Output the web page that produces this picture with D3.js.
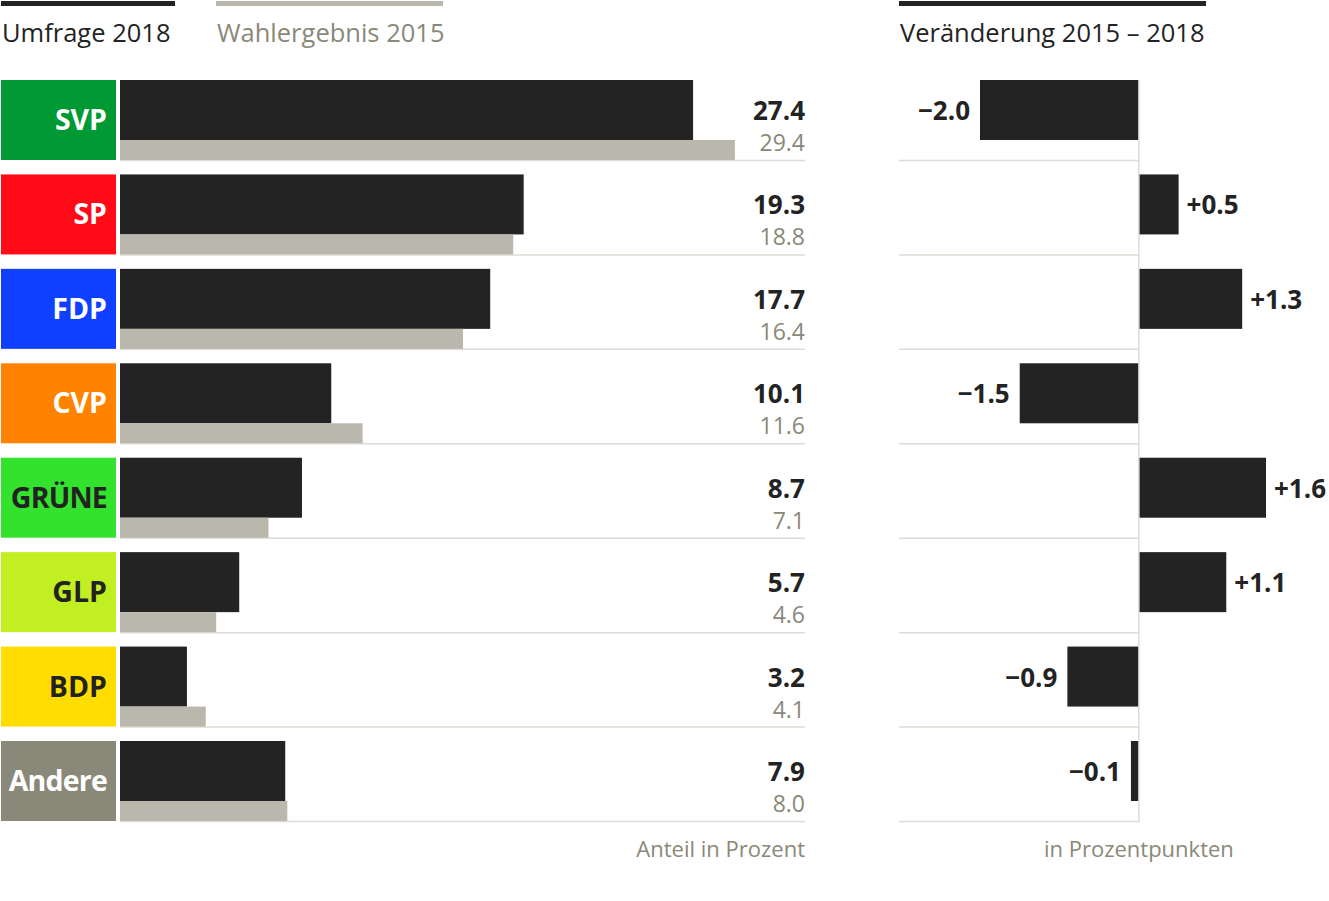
<!DOCTYPE html>
<html>
<head>
<meta charset="utf-8">
<script src="https://cdn.jsdelivr.net/npm/d3@7"></script>
<style>
  body { margin: 0; background: #fff; }
  svg text { font-family: "Open Sans", "Noto Sans", sans-serif; }
</style>
</head>
<body>
<div id="chart"></div>
<script>
// Parteien und Werte
const parties = ["SVP", "SP", "FDP", "CVP", "GRÜNE", "GLP", "BDP", "Andere"];
const umfrage2018 = [27.4, 19.3, 17.7, 10.1, 8.7, 5.7, 3.2, 7.9];
const wahl2015 = [29.4, 18.8, 16.4, 11.6, 7.1, 4.6, 4.1, 8.0];
const veraenderung = [-2.0, 0.5, 1.3, -1.5, 1.6, 1.1, -0.9, -0.1];
const partyColors = ["#009933", "#ff0a16", "#1040ff", "#ff8200", "#33e22c", "#c2ef22", "#ffdd00", "#8a8878"];
const darkLabels = ["GRÜNE", "GLP", "BDP"];

const data = parties.map((p, i) => ({
    party: p,
    now: umfrage2018[i],
    before: wahl2015[i],
    diff: veraenderung[i],
    color: partyColors[i]
}));

const width = 1329, height = 901;
const dark = "#232323", grey = "#bab8ad", greyText = "#8a8878", rule = "#dcdcd6";

const svg = d3.select("#chart").append("svg")
    .attr("width", width)
    .attr("height", height);

// Zeilen
const y = d3.scaleBand()
    .domain(parties)
    .range([80, 821])
    .paddingInner(0.1528)
    .paddingOuter(0);

// Anteil in Prozent
const x = d3.scaleLinear()
    .domain([0, 32.75])
    .range([120, 805]);

// Veränderung in Prozentpunkten
const xc = d3.scaleLinear()
    .domain([-2, 1.6])
    .range([980, 1266]);

const bandH = y.bandwidth();      // ~80
const nowH = bandH * 0.75;        // dunkler Balken
const beforeH = bandH - nowH;     // grauer Balken

const fmtDiff = v => (v > 0 ? "+" : v < 0 ? "\u2212" : "") + Math.abs(v).toFixed(1);

// Kopfzeile / Legende
const legend = [
    {x0: 1, x1: 175, color: dark, text: "Umfrage 2018", tc: dark},
    {x0: 216, x1: 443, color: grey, text: "Wahlergebnis 2015", tc: greyText},
    {x0: 899, x1: 1206, color: dark, text: "Veränderung 2015 – 2018", tc: dark}
];
const head = svg.append("g").selectAll("g").data(legend).enter().append("g");
head.append("rect")
    .attr("x", d => d.x0)
    .attr("y", 1)
    .attr("width", d => d.x1 - d.x0)
    .attr("height", 5)
    .attr("fill", d => d.color);
head.append("text")
    .attr("x", d => d.x0 + 1)
    .attr("y", 42)
    .attr("font-size", 25.5)
    .attr("fill", d => d.tc)
    .text(d => d.text);

const rows = svg.append("g").selectAll(".row")
    .data(data)
    .enter().append("g")
    .attr("class", "row")
    .attr("transform", d => "translate(0," + y(d.party) + ")");

// Trennlinien
rows.append("line")
    .attr("x1", x(0)).attr("x2", x.range()[1])
    .attr("y1", bandH + 0.5).attr("y2", bandH + 0.5)
    .attr("stroke", rule).attr("stroke-width", 1.5);
rows.append("line")
    .attr("x1", 899).attr("x2", xc(0))
    .attr("y1", bandH + 0.5).attr("y2", bandH + 0.5)
    .attr("stroke", rule).attr("stroke-width", 1.5);

// Parteifeld
rows.append("rect")
    .attr("x", 1)
    .attr("y", 0)
    .attr("width", 115)
    .attr("height", bandH)
    .attr("fill", d => d.color);
rows.append("text")
    .attr("x", 107)
    .attr("y", bandH / 2 + 10)
    .attr("text-anchor", "end")
    .attr("font-size", 28.5)
    .attr("font-weight", 700)
    .attr("letter-spacing", d => d.party.length > 4 ? -0.8 : 0)
    .attr("fill", d => darkLabels.includes(d.party) ? "#222" : "#fff")
    .text(d => d.party);

// Balken Umfrage 2018
rows.append("rect")
    .attr("x", x(0))
    .attr("y", 0)
    .attr("width", d => x(d.now) - x(0))
    .attr("height", nowH)
    .attr("fill", dark);

// Balken Wahlergebnis 2015
rows.append("rect")
    .attr("x", x(0))
    .attr("y", nowH)
    .attr("width", d => x(d.before) - x(0))
    .attr("height", beforeH)
    .attr("fill", grey);

// Werte
rows.append("text")
    .attr("x", x.range()[1])
    .attr("y", nowH / 2 + 10)
    .attr("text-anchor", "end")
    .attr("font-size", 26)
    .attr("font-weight", 700)
    .attr("fill", dark)
    .text(d => d.now.toFixed(1));
rows.append("text")
    .attr("x", x.range()[1])
    .attr("y", nowH + 11)
    .attr("text-anchor", "end")
    .attr("font-size", 23)
    .attr("fill", greyText)
    .text(d => d.before.toFixed(1));

// Veränderung
rows.append("rect")
    .attr("x", d => xc(Math.min(0, d.diff)))
    .attr("y", 0)
    .attr("width", d => Math.abs(xc(d.diff) - xc(0)))
    .attr("height", nowH)
    .attr("fill", dark);
rows.append("text")
    .attr("x", d => d.diff < 0 ? xc(d.diff) - 10 : xc(d.diff) + 8)
    .attr("y", nowH / 2 + 10)
    .attr("text-anchor", d => d.diff < 0 ? "end" : "start")
    .attr("font-size", 26)
    .attr("font-weight", 700)
    .attr("fill", dark)
    .text(d => fmtDiff(d.diff));

// Nulllinie
svg.append("line")
    .attr("x1", xc(0)).attr("x2", xc(0))
    .attr("y1", y.range()[0]).attr("y2", y.range()[1] + 1)
    .attr("stroke", rule).attr("stroke-width", 1.5);

// Fusszeilen
svg.append("text")
    .attr("x", x.range()[1])
    .attr("y", 857)
    .attr("text-anchor", "end")
    .attr("font-size", 22)
    .attr("fill", greyText)
    .text("Anteil in Prozent");
svg.append("text")
    .attr("x", xc(0))
    .attr("y", 857)
    .attr("text-anchor", "middle")
    .attr("font-size", 22)
    .attr("fill", greyText)
    .text("in Prozentpunkten");
</script>
</body>
</html>
